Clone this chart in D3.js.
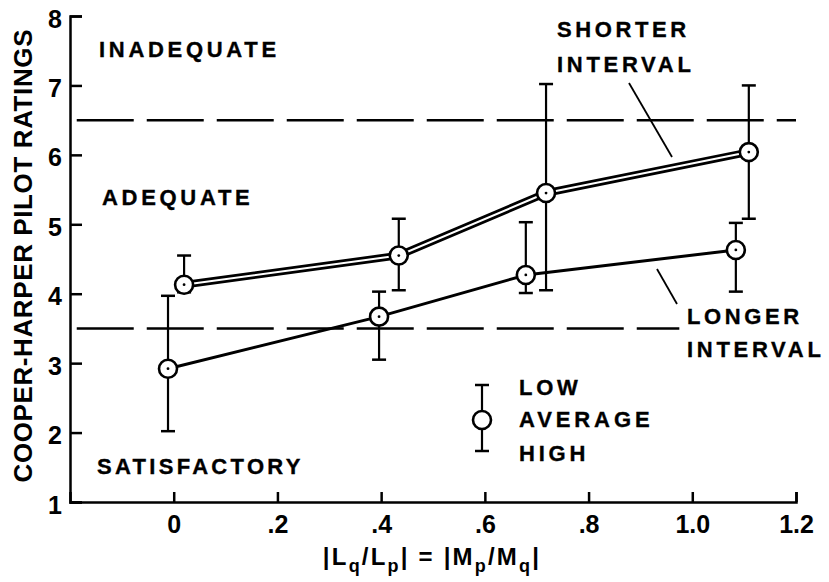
<!DOCTYPE html>
<html>
<head>
<meta charset="utf-8">
<script src="https://cdn.jsdelivr.net/npm/d3@7"></script>
<style>
  html, body { margin: 0; padding: 0; background: #fff; }
  svg { display: block; }
  text { font-family: "Liberation Sans", Arial, Helvetica, sans-serif; font-weight: bold; fill: #000; }
</style>
</head>
<body>
<svg id="chart" width="829" height="582"></svg>
<script>
// ---------- data ----------
const xTickValues = [0, 0.2, 0.4, 0.6, 0.8, 1.0, 1.2];
const xTickLabels = ["0", ".2", ".4", ".6", ".8", "1.0", "1.2"];
const yTickValues = [1, 2, 3, 4, 5, 6, 7, 8];
const yTickLabels = ["1", "2", "3", "4", "5", "6", "7", "8"];

// shorter interval
const shorterX      = [0.02, 0.434, 0.718, 1.109];
const shorterAvg    = [4.13, 4.55, 5.45, 6.04];
const shorterUpper  = [4.55, 5.08, 7.02, 7.00];
const shorterLower  = [4.02, 4.05, 4.05, 5.08];

// longer interval
const longerX      = [-0.011, 0.396, 0.679, 1.084];
const longerAvg    = [2.92, 3.67, 4.27, 4.63];
const longerUpper  = [3.97, 4.03, 5.03, 5.02];
const longerLower  = [2.02, 3.05, 4.01, 4.03];

// boundary levels
const boundaryLevels = [6.5, 3.5];
const boundaryEnds   = [1.2, 0.975];

// ---------- setup ----------
const svg = d3.select("#chart");
const x = d3.scaleLinear([-0.2, 1.2], [70, 796]);
const y = d3.scaleLinear([1, 8], [502, 16]);

// ---------- axes ----------
const xAxis = d3.axisBottom(x)
  .tickValues(xTickValues)
  .tickFormat((d, i) => xTickLabels[i])
  .tickSizeInner(-10).tickSizeOuter(-10).tickPadding(13);
const yAxis = d3.axisLeft(y)
  .tickValues(yTickValues)
  .tickFormat((d, i) => yTickLabels[i])
  .tickSizeInner(-12).tickSizeOuter(-12).tickPadding(8);

const gx = svg.append("g").attr("transform", "translate(0,502)").call(xAxis);
const gy = svg.append("g").attr("transform", "translate(70,0)").call(yAxis);
[gx, gy].forEach(g => {
  g.select(".domain").attr("stroke", "#000").attr("stroke-width", 2.5).attr("fill", "none");
  g.selectAll(".tick line").attr("stroke", "#000").attr("stroke-width", 2.5);
  g.selectAll(".tick text").attr("font-size", 25).attr("font-family", null).attr("font-weight", "bold");
});
gy.selectAll(".tick text").attr("dy", "0.44em");

// ---------- boundaries ----------
svg.append("g").selectAll("line").data(boundaryLevels).join("line")
  .attr("x1", x(-0.187))
  .attr("x2", (d, i) => x(boundaryEnds[i]))
  .attr("y1", d => y(d)).attr("y2", d => y(d))
  .attr("stroke", "#000").attr("stroke-width", 2.5)
  .attr("stroke-dasharray", "57,13");

// ---------- series ----------
function series(xs, avg, up, lo, double) {
  const pts = xs.map((v, i) => ({x: v, a: avg[i], u: up[i], l: lo[i]}));
  const g = svg.append("g");
  g.selectAll("line.bar").data(pts).join("line").attr("class", "bar")
    .attr("x1", d => x(d.x)).attr("x2", d => x(d.x))
    .attr("y1", d => y(d.u)).attr("y2", d => y(d.l))
    .attr("stroke", "#000").attr("stroke-width", 2.2);
  ["u", "l"].forEach(k => {
    g.selectAll("line.cap" + k).data(pts).join("line").attr("class", "cap" + k)
      .attr("x1", d => x(d.x) - 7).attr("x2", d => x(d.x) + 7)
      .attr("y1", d => y(d[k])).attr("y2", d => y(d[k]))
      .attr("stroke", "#000").attr("stroke-width", 2.5);
  });
  const line = d3.line().x(d => x(d.x)).y(d => y(d.a));
  if (double) {
    g.append("path").attr("d", line(pts)).attr("fill", "none")
      .attr("stroke", "#000").attr("stroke-width", 7.5).attr("stroke-linejoin", "round");
    g.append("path").attr("d", line(pts)).attr("fill", "none")
      .attr("stroke", "#fff").attr("stroke-width", 2).attr("stroke-linejoin", "round");
  } else {
    g.append("path").attr("d", line(pts)).attr("fill", "none")
      .attr("stroke", "#000").attr("stroke-width", 3);
  }
  g.selectAll("circle.pt").data(pts).join("circle").attr("class", "pt")
    .attr("cx", d => x(d.x)).attr("cy", d => y(d.a)).attr("r", 9)
    .attr("fill", "#fff").attr("stroke", "#000").attr("stroke-width", 2.6);
  g.selectAll("circle.dot").data(pts).join("circle").attr("class", "dot")
    .attr("cx", d => x(d.x)).attr("cy", d => y(d.a)).attr("r", 1.4)
    .attr("fill", "#000");
}
series(longerX, longerAvg, longerUpper, longerLower, false);
series(shorterX, shorterAvg, shorterUpper, shorterLower, true);

// ---------- annotations ----------
const lbl = (t, px, py, ls) => svg.append("text")
  .attr("x", px).attr("y", py).attr("font-size", 22)
  .attr("stroke", "#000").attr("stroke-width", 0.35)
  .attr("letter-spacing", ls).text(t);
lbl("INADEQUATE", 99, 57, 3.7);
lbl("ADEQUATE", 102, 205, 3.7);
lbl("SATISFACTORY", 97, 474, 3.3);
lbl("SHORTER", 557, 37, 3.6);
lbl("INTERVAL", 557, 72, 3.7);
lbl("LONGER", 687, 324, 3.6);
lbl("INTERVAL", 687, 357, 3.7);
lbl("LOW", 519, 395, 3.7);
lbl("AVERAGE", 519, 427, 3.9);
lbl("HIGH", 519, 461, 3.8);

// leader lines
svg.append("line").attr("x1", 629).attr("y1", 83).attr("x2", 672).attr("y2", 157)
  .attr("stroke", "#000").attr("stroke-width", 1.8);
svg.append("line").attr("x1", 657).attr("y1", 269).attr("x2", 677).attr("y2", 304)
  .attr("stroke", "#000").attr("stroke-width", 1.8);

// legend symbol
const lg = svg.append("g");
lg.append("line").attr("x1", 482).attr("x2", 482).attr("y1", 385).attr("y2", 451)
  .attr("stroke", "#000").attr("stroke-width", 2.2);
[385, 451].forEach(cy => lg.append("line").attr("x1", 475).attr("x2", 489)
  .attr("y1", cy).attr("y2", cy).attr("stroke", "#000").attr("stroke-width", 2.5));
lg.append("circle").attr("cx", 482).attr("cy", 420).attr("r", 9)
  .attr("fill", "#fff").attr("stroke", "#000").attr("stroke-width", 2.6);

// axis titles
svg.append("text")
  .attr("transform", "translate(32,256) rotate(-90)")
  .attr("text-anchor", "middle").attr("font-size", 26)
  .attr("textLength", 453).attr("lengthAdjust", "spacing")
  .text("COOPER-HARPER PILOT RATINGS");

const xt = svg.append("text").attr("x", 432).attr("y", 565)
  .attr("text-anchor", "middle").attr("font-size", 24).attr("letter-spacing", 2.2);
const parts = [["|L", 0], ["q", 1], ["/L", 0], ["p", 1], ["| = |M", 0], ["p", 1], ["/M", 0], ["q", 1], ["|", 0]];
let prevSub = 0;
parts.forEach(([t, sub]) => {
  const dy = sub === prevSub ? 0 : (sub ? 7 : -7);
  xt.append("tspan").attr("dy", dy).attr("font-size", sub ? 18 : 24).text(t);
  prevSub = sub;
});
</script>
</body>
</html>
